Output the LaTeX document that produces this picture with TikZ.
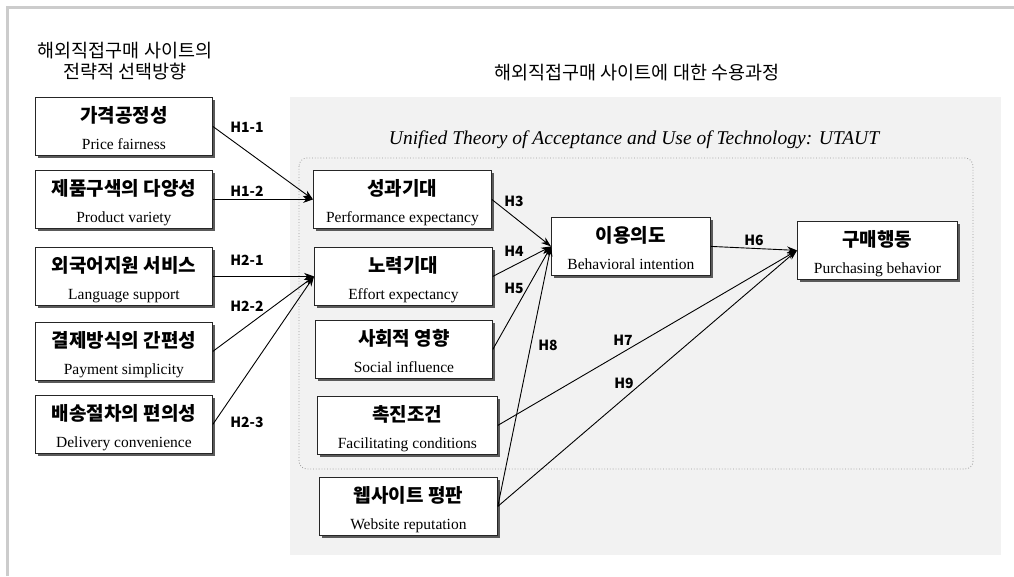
\documentclass[tikz,border=0pt]{standalone}
\usepackage{fontspec}
\setmainfont{Liberation Serif}
\newfontfamily\krfont{Noto Sans CJK KR}
\usetikzlibrary{calc,arrows.meta,shadows}
\definecolor{grey80}{HTML}{CCCCCC}
\definecolor{panel}{HTML}{F2F2F2}
\definecolor{dots}{HTML}{9A9A9A}
\definecolor{shade}{HTML}{5A5A5A}

\tikzset{
  factor/.style={draw=black!85, line width=0.8pt, fill=white, anchor=north west,
    minimum height=58, inner sep=0pt,
    drop shadow={shadow xshift=3pt, shadow yshift=-3pt, fill=shade, opacity=1}},
  krname/.style={font=\krfont\bfseries\fontsize{19}{22}\selectfont, inner sep=0pt,
    text height=15pt, text depth=1pt},
  enname/.style={font=\fontsize{15.5}{18}\selectfont, inner sep=0pt,
    text height=11pt, text depth=4pt},
  hyp/.style={font=\krfont\bfseries\fontsize{14}{16}\selectfont, inner sep=0pt},
  heading/.style={font=\krfont\fontsize{18.5}{21}\selectfont, inner sep=0pt, align=center},
  link/.style={-{Stealth[length=10pt,width=7pt]}, line width=0.9pt},
}

\begin{document}
\begin{tikzpicture}[x=1pt, y=-1pt]

  \useasboundingbox (0,0) rectangle (1014,576);
  \fill[white] (0,0) rectangle (1014,576);

  % FRAME
  \draw[grey80, line width=3pt] (7.5,576) -- (7.5,7) -- (1014,7);

  % PANEL
  \fill[panel] (290,97) rectangle (1001,555);
  \draw[dots, dotted, line width=0.8pt, rounded corners=8pt] (299,158) rectangle (973,469);

  % HEADINGS
  \node[heading] (lefthead) at (125,61) {해외직접구매 사이트의\\전략적 선택방향};
  \node[heading] (righthead) at (637,73) {해외직접구매 사이트에 대한 수용과정};
  \node[font=\itshape\fontsize{19.5}{22}\selectfont, inner sep=0pt] (utaut) at (634,140)
    {Unified Theory of Acceptance and Use of Technology: UTAUT};

  % BOXES LEFT
  \foreach \name/\y/\kr/\en in {price/97/가격공정성/Price fairness,
      variety/170/제품구색의 다양성/Product variety,
      language/247/외국어지원 서비스/Language support,
      payment/322/결제방식의 간편성/Payment simplicity,
      delivery/395/배송절차의 편의성/Delivery convenience}{
    \node[factor, minimum width=177] (\name) at (35,\y) {};
    \node[krname] (\name-kr) at ($(\name.north)+(0,18)$) {\kr};
    \node[enname] (\name-en) at ($(\name.north)+(0,49)$) {\en};
  }

  % BOXES RIGHT
  \foreach \name/\x/\y/\w/\kr/\en in {perf/313/170/178/성과기대/Performance expectancy,
      effort/314/247/178/노력기대/Effort expectancy,
      social/315/320/177/사회적 영향/Social influence,
      facil/317/396/180/촉진조건/Facilitating conditions,
      web/319/477/178/웹사이트 평판/Website reputation,
      intent/551/217/159/이용의도/Behavioral intention,
      purchase/797/221/160/구매행동/Purchasing behavior}{
    \node[factor, minimum width=\w] (\name) at (\x,\y) {};
    \node[krname] (\name-kr) at ($(\name.north)+(0,18)$) {\kr};
    \node[enname] (\name-en) at ($(\name.north)+(0,49)$) {\en};
  }

  % ARROWS
  \draw[link] (price.east) -- (perf.west);
  \draw[link] (variety.east) -- (perf.west);
  \draw[link] (language.east) -- (effort.west);
  \draw[link] (payment.east) -- (effort.west);
  \draw[link] (delivery.east) -- (effort.west);
  \draw[link] (perf.east) -- (intent.west);
  \draw[link] (effort.east) -- (intent.west);
  \draw[link] (social.east) -- (intent.west);
  \draw[link] (web.east) -- (intent.west);
  \draw[link] (intent.east) -- (purchase.west);
  \draw[link] (facil.east) -- (purchase.west);
  \draw[link] (web.east) -- (purchase.west);

  % LABELS
  \node[hyp] (h11) at (247,127) {H1-1};
  \node[hyp] (h12) at (247,191) {H1-2};
  \node[hyp] (h21) at (247,260) {H2-1};
  \node[hyp] (h22) at (247,306) {H2-2};
  \node[hyp] (h23) at (247,422) {H2-3};
  \node[hyp] (h3) at (514,201) {H3};
  \node[hyp] (h4) at (514,251) {H4};
  \node[hyp] (h5) at (514,288) {H5};
  \node[hyp] (h6) at (754,240) {H6};
  \node[hyp] (h7) at (623,340) {H7};
  \node[hyp] (h8) at (548,345) {H8};
  \node[hyp] (h9) at (624,383) {H9};

\end{tikzpicture}
\end{document}
